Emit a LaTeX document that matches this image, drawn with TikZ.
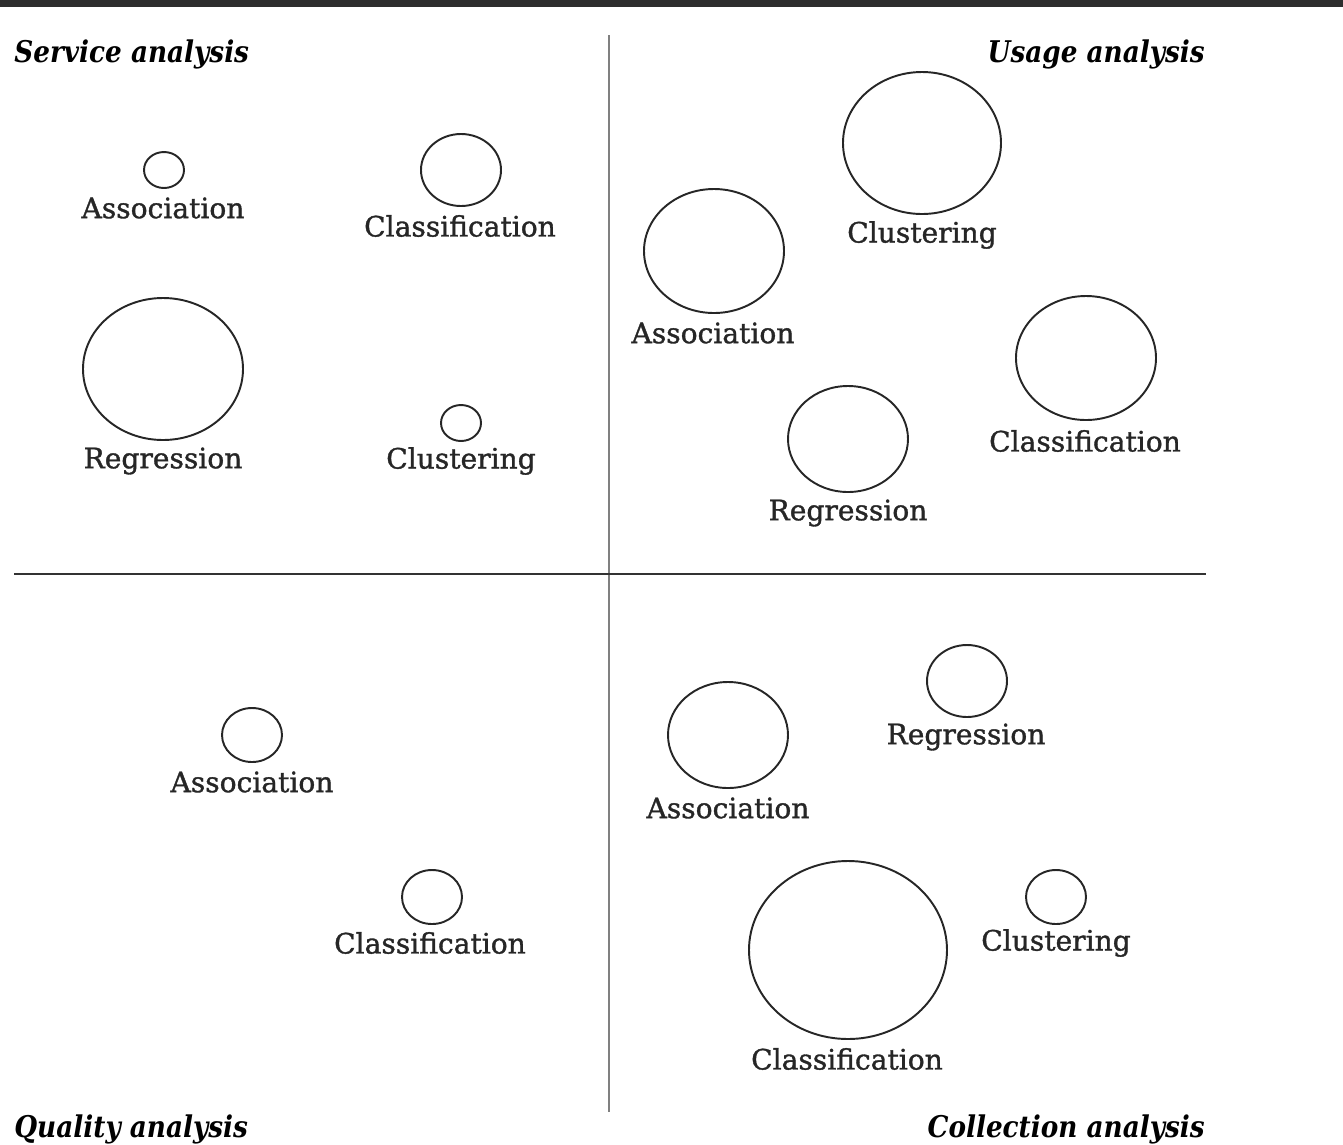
\documentclass[tikz,border=0pt]{standalone}
\usepackage{fontspec}
\setmainfont{DejaVu Serif}
\newfontfamily\labelfont[FakeBold=1.2]{DejaVu Serif}
\newfontfamily\titlefont[FakeStretch=0.88]{DejaVu Serif}
\begin{document}
\begin{tikzpicture}[x=0.02cm,y=-0.02cm,
  lbl/.style={font=\labelfont\fontsize{16}{19}\selectfont,text=black!85,inner sep=0pt},
  ttl/.style={font=\titlefont\bfseries\itshape\fontsize{17}{20}\selectfont,inner sep=0pt},
  ring/.style={draw=black!85,line width=1.1pt}]
\useasboundingbox (0,0) rectangle (1343,1144);
% dark band along the top edge
\fill[black!82] (0,0) rectangle (1343,7);
% quadrant axes
\coordinate (vt) at (609,35);
\coordinate (vb) at (609,1112);
\coordinate (hl) at (14,574);
\coordinate (hr) at (1206,574);
\draw[black!50,line width=1.6pt] (vt) -- (vb);
\draw[black!80,line width=1.1pt] (hl) -- (hr);
% quadrant titles
\node[ttl,anchor=west] (tsvc) at (14,54) {Service analysis};
\node[ttl,anchor=east] (tuse) at (1205,54) {Usage analysis};
\node[ttl,anchor=west] (tqual) at (14,1129) {Quality analysis};
\node[ttl,anchor=east] (tcoll) at (1205,1129) {Collection analysis};
% Service analysis
\draw[ring] (164,170) ellipse [x radius=20,y radius=18];
\node[lbl] (s1) at (163,208) {Association};
\draw[ring] (461,170) ellipse [x radius=40,y radius=36];
\node[lbl] (s2) at (460,226) {Classification};
\draw[ring] (163,369) ellipse [x radius=80,y radius=71];
\node[lbl] (s3) at (163,461) {Regression};
\draw[ring] (461,423) ellipse [x radius=20,y radius=18];
\node[lbl] (s4) at (461,461) {Clustering};
% Usage analysis
\draw[ring] (922,143) ellipse [x radius=79,y radius=71];
\node[lbl] (u1) at (922,235) {Clustering};
\draw[ring] (714,251) ellipse [x radius=70,y radius=62];
\node[lbl] (u2) at (713,333) {Association};
\draw[ring] (1086,358) ellipse [x radius=70,y radius=62];
\node[lbl] (u3) at (1085,441) {Classification};
\draw[ring] (848,439) ellipse [x radius=60,y radius=53];
\node[lbl] (u4) at (848,513) {Regression};
% Quality analysis
\draw[ring] (252,735) ellipse [x radius=30,y radius=27];
\node[lbl] (q1) at (252,782) {Association};
\draw[ring] (432,897) ellipse [x radius=30,y radius=27];
\node[lbl] (q2) at (430,943) {Classification};
% Collection analysis
\draw[ring] (967,681) ellipse [x radius=40,y radius=36];
\node[lbl] (c1) at (966,737) {Regression};
\draw[ring] (728,735) ellipse [x radius=60,y radius=53];
\node[lbl] (c2) at (728,808) {Association};
\draw[ring] (848,950) ellipse [x radius=99,y radius=89];
\node[lbl] (c3) at (847,1059) {Classification};
\draw[ring] (1056,897) ellipse [x radius=30,y radius=27];
\node[lbl] (c4) at (1056,943) {Clustering};
\end{tikzpicture}
\end{document}
